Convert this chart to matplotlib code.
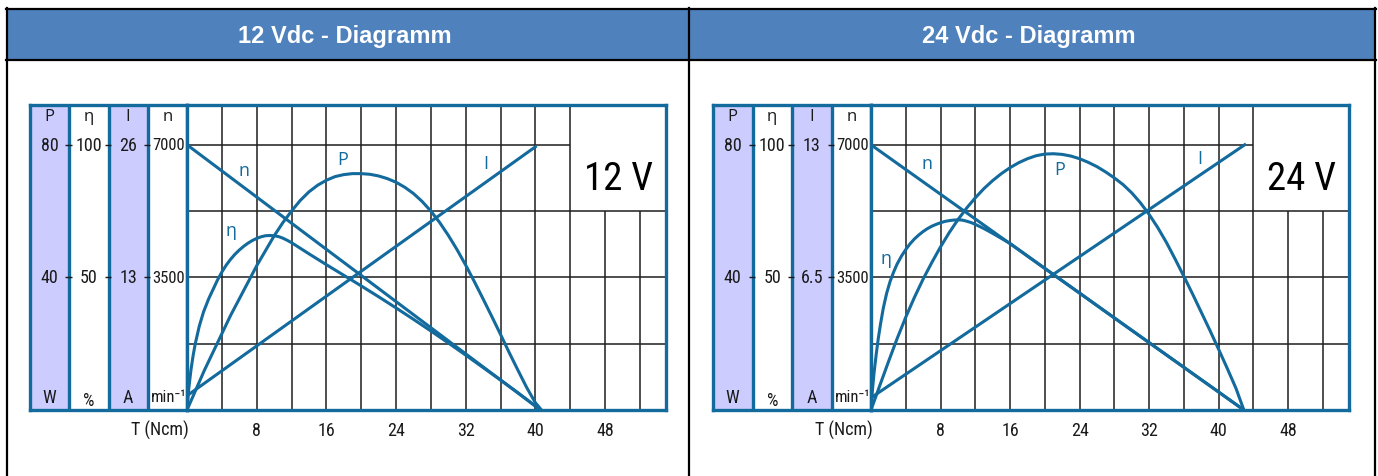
import matplotlib.pyplot as plt
from matplotlib.patches import Rectangle

W, H = 1378, 477

panel_titles = ["12 Vdc - Diagramm", "24 Vdc - Diagramm"]
voltage_labels = ["12 V", "24 V"]

torque_ticks = [8, 16, 24, 32, 40, 48]
speed_ticks = [3500, 7000]                       # min-1
power_ticks = [40, 80]                           # W
eff_ticks = [50, 100]                            # %
current_ticks = [[13, 26], [6.5, 13]]            # A, 12 V / 24 V

col_heads = ["P", "η", "I", "n"]
col_units = ["W", "%", "A", "min⁻¹"]

# ---- 12 V ----
n12_T = [0, 40.6]
n12 = [7000, 0]
i12_T = [0, 40]
i12 = [1.4, 25.8]
p12_T = [0, 1, 2, 3, 4, 5, 6, 7, 8, 9, 10, 11, 12, 13, 14, 15, 16, 17, 18, 19,
         20, 21, 22, 23, 24, 25, 26, 27, 28, 29, 30, 31, 32, 33, 34, 35, 36, 37,
         38, 39, 40, 40.7]
p12 = [0, 6, 12, 17.5, 23, 28.5, 33.5, 38.5, 43.5, 48, 52.5, 56.5, 60, 63.2,
       65.8, 67.8, 69.3, 70.4, 71, 71.3, 71.3, 71.1, 70.6, 69.8, 68.7, 67.2,
       65.3, 62.9, 60, 56.6, 52.7, 48.4, 43.7, 38.7, 33.5, 28.2, 22.8, 17.3,
       12, 6.8, 2.2, 0]
eta12_T = [0, 0.2, 0.45, 0.7, 0.95, 1.4, 1.9, 2.5, 3, 3.5, 4, 4.5, 5, 5.5, 6,
           6.5, 7, 7.5, 8, 8.5, 9, 9.5, 10, 10.5, 11, 11.5, 12, 14, 16, 18, 20,
           22, 24, 26, 28, 30, 32, 34, 36, 38, 40, 40.6]
eta12 = [0, 8, 15, 20.5, 25, 31.5, 37, 42, 45.5, 49, 52, 54.6, 56.8, 58.7,
         60.3, 61.7, 62.9, 63.9, 64.7, 65.3, 65.7, 65.8, 65.7, 65.4, 64.8, 64,
         63.1, 58.9, 54.8, 50.8, 46.8, 42.7, 38.5, 34.2, 29.8, 25.3, 20.7, 16,
         11.3, 6.5, 1.5, 0]

# ---- 24 V ----
n24_T = [0, 42.9]
n24 = [7000, 0]
i24_T = [0, 43]
i24 = [0.6, 13]
p24_T = [0, 1, 2, 3, 4, 5, 6, 7, 8, 9, 10, 11, 12, 13, 14, 15, 16, 17, 18, 19,
         20, 21, 22, 23, 24, 25, 26, 27, 28, 29, 30, 31, 32, 33, 34, 35, 36, 37,
         38, 39, 40, 41, 42, 42.9]
p24 = [0, 7.3, 14.5, 21.5, 28, 34, 39.5, 44.5, 49.2, 53.5, 57.4, 60.9, 64,
       66.8, 69.2, 71.3, 73.1, 74.6, 75.8, 76.7, 77.2, 77.3, 77.1, 76.6, 75.8,
       74.7, 73.4, 71.8, 70, 68, 65.5, 62.5, 59, 55, 50.5, 45.5, 40.3, 35, 29.5,
       24, 18.3, 12.5, 6.5, 0]
eta24_T = [0, 0.15, 0.35, 0.6, 0.84, 1.1, 1.42, 1.8, 2.2, 2.6, 3, 3.5, 4, 4.5,
           5, 5.5, 6, 6.5, 7, 7.5, 8, 8.5, 9, 9.5, 10, 10.5, 11, 11.5, 12, 13,
           14, 15, 16, 20, 24, 28, 32, 36, 40, 42.9]
eta24 = [0, 7, 14, 21, 27, 32.5, 38.5, 44, 48.5, 52, 55, 58, 60.5, 62.7, 64.5,
         66, 67.3, 68.4, 69.3, 70, 70.6, 71.1, 71.4, 71.6, 71.7, 71.6, 71.2,
         70.7, 70, 68.4, 66.6, 64.7, 62.8, 53.4, 44.1, 34.7, 25.4, 16.1, 6.8, 0]

curves = [
    dict(n=(n12_T, n12), i=(i12_T, i12), p=(p12_T, p12), eta=(eta12_T, eta12)),
    dict(n=(n24_T, n24), i=(i24_T, i24), p=(p24_T, p24), eta=(eta24_T, eta24)),
]

# curve label positions (T, min-1 units)
label_pos = [
    dict(n=(6.5, 6330), P=(17.9, 6620), I=(34.3, 6530), eta=(5.1, 4750)),
    dict(n=(6.4, 6530), P=(21.7, 6360), I=(37.8, 6660), eta=(1.7, 4000)),
]

BLUE = '#136a9c'
GRID = '#1e1e1e'
LILAC = '#ccccff'
HEAD = '#4f81bd'
TXT = '#1a1a1a'
YTOP = 8050
XMAX = 55
TOP, BOT = 106, 411
narrow = ['Roboto Condensed', 'DejaVu Sans']

plt.rcParams['font.family'] = ['Open Sans', 'Noto Sans', 'DejaVu Sans']

fig = plt.figure(figsize=(W / 100, H / 100), dpi=100)


def px_axes(l, t, r, b):
    return fig.add_axes([l / W, 1 - b / H, (r - l) / W, (b - t) / H])


# table frame + headers
bg = fig.add_axes([0, 0, 1, 1])
bg.set_xlim(0, W)
bg.set_ylim(H, 0)
bg.axis('off')
cells = [(7, 689), (689, 1374.5)]
for (x0, x1), title in zip(cells, panel_titles):
    bg.add_patch(Rectangle((x0, 10), x1 - x0, 51, facecolor=HEAD, edgecolor='none'))
    bg.text((x0 + x1) / 2 - 3, 36, title, color='white', fontsize=17, fontweight='bold',
            family=['Liberation Sans', 'DejaVu Sans'], ha='center', va='center')
bg.plot([6, 1375.5], [9.5, 9.5], color='black', lw=1.6)
bg.plot([6, 1375.5], [61, 61], color='black', lw=1.6)
for x in (7, 689, 1374.5):
    bg.plot([x, x], [9, H], color='black', lw=1.6)

panels = [(30, 187, 666), (713, 871, 1349)]

for k, (xl, xp, xr) in enumerate(panels):
    # ---- scale columns ----
    lab = px_axes(xl, TOP, xp, BOT)
    lab.set_xlim(0, 4)
    lab.set_ylim(0, YTOP)
    lab.axvspan(0, 1, color=LILAC, lw=0)
    lab.axvspan(2, 3, color=LILAC, lw=0)
    lab.vlines([1, 2, 3], 0, YTOP, colors=BLUE, lw=2.4)
    for s in lab.spines.values():
        s.set_color(BLUE)
        s.set_linewidth(2.4)
    lab.set_xticks([])
    lab.set_yticks([])
    for b in (1, 2, 3):
        lab.hlines(speed_ticks, b - 0.1, b + 0.06, colors=TXT, lw=1)
    cols = [power_ticks, eff_ticks, current_ticks[k], speed_ticks]
    for c, vals in enumerate(cols):
        fam = narrow
        fs = 12 if c == 3 else 13
        dx = 0.54 if c == 3 else 0.5
        lab.text(c + 0.5, 7760, col_heads[c], ha='center', va='center', fontsize=12,
                 color=TXT)
        for v, y in zip(vals, speed_ticks):
            lab.text(c + dx, y, f"{v:g}", ha='center', va='center', fontsize=fs,
                     color=TXT, family=fam)
        uy = 260 if col_units[c] == '%' else 350
        lab.text(c + dx, uy, col_units[c], ha='center', va='center', fontsize=fs,
                 color=TXT, family=fam)

    # ---- chart ----
    ax = px_axes(xp, TOP, xr, BOT)
    ax.set_xlim(0, XMAX)
    ax.set_ylim(0, YTOP)
    ax.vlines(range(4, 45, 4), 0, YTOP, colors=GRID, lw=1.1)
    ax.vlines([48, 52], 0, 5250, colors=GRID, lw=1.1)
    ax.hlines([1750, 3500, 5250], 0, XMAX, colors=GRID, lw=1.1)
    ax.hlines(7000, 0, 44, colors=GRID, lw=1.1)
    for s in ax.spines.values():
        s.set_color(BLUE)
        s.set_linewidth(2.4)
        s.set_zorder(5)
    ax.set_yticks([])
    ax.set_xticks(torque_ticks)
    ax.tick_params(axis='x', length=0, pad=8, labelsize=13, labelcolor=TXT)
    for t in ax.get_xticklabels():
        t.set_family(narrow)

    cv = curves[k]
    ax.plot(*cv['n'], color=BLUE, lw=2.2, zorder=3)
    full = {'p': power_ticks[1], 'eta': eff_ticks[1], 'i': current_ticks[k][1]}
    for key in ('i', 'p', 'eta'):
        tw = ax.twinx()
        tw.set_ylim(0, full[key] * YTOP / 7000)
        tw.axis('off')
        tw.plot(*cv[key], color=BLUE, lw=2.2, solid_joinstyle='round')

    lp = label_pos[k]
    ax.text(*lp['n'], 'n', color=BLUE, fontsize=13, ha='center', va='center')
    ax.text(*lp['P'], 'P', color=BLUE, fontsize=13, ha='center', va='center')
    ax.text(*lp['I'], 'I', color=BLUE, fontsize=13, ha='center', va='center')
    ax.text(*lp['eta'], 'η', color=BLUE, fontsize=13, ha='center', va='center')
    ax.text(49.5, 6100, voltage_labels[k], fontsize=28, family=narrow,
            ha='center', va='center', color='black')

    bg.text(xp + 2, 430, 'T (Ncm)', ha='right', va='center', fontsize=13, color=TXT,
            family=narrow)

fig.savefig('out.png', dpi=100)
